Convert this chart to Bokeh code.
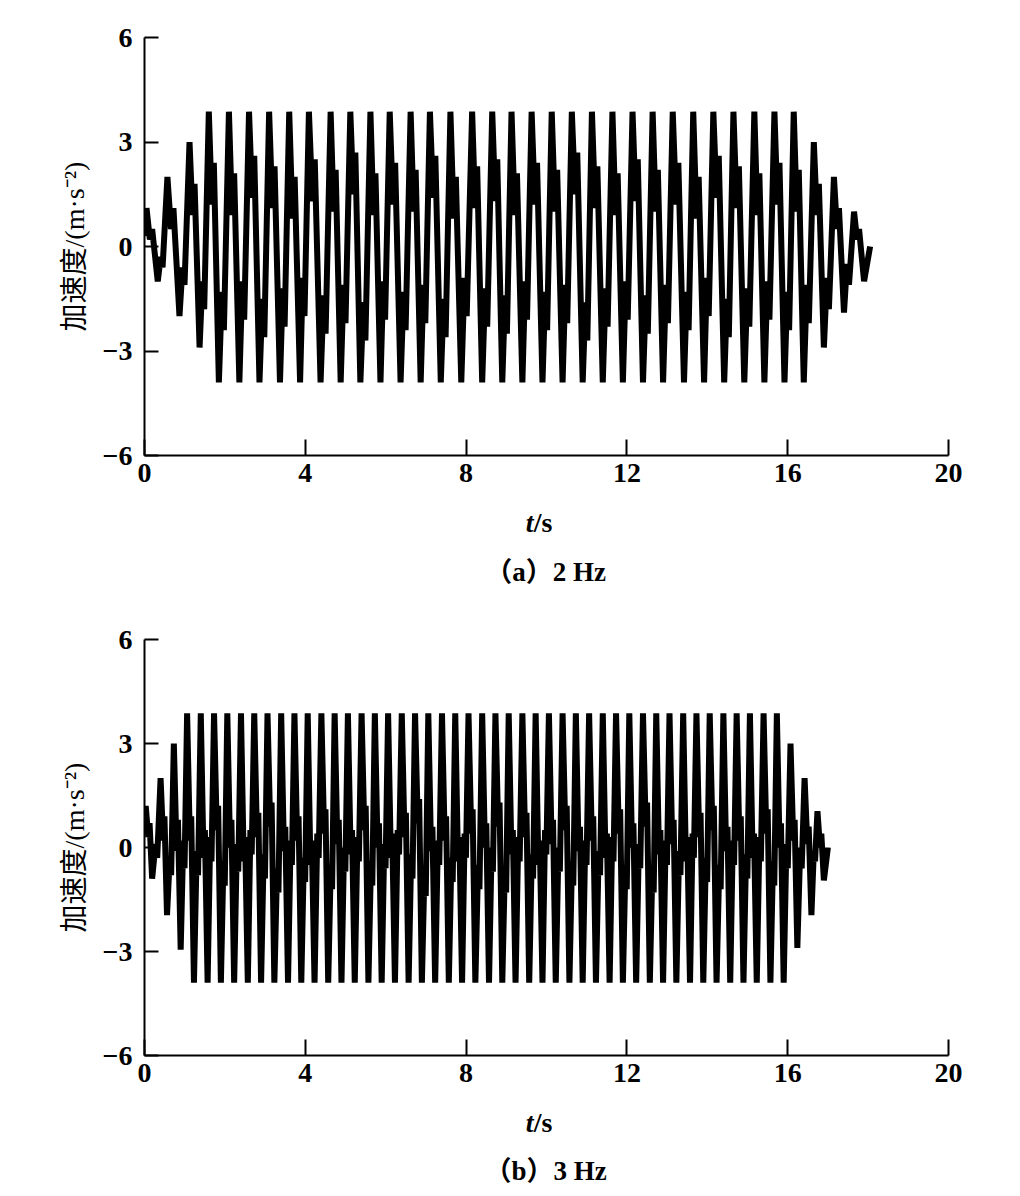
from bokeh.plotting import figure
from bokeh.models import Range1d, FixedTicker
from bokeh.layouts import column
from bokeh.core.properties import value
from bokeh.embed import file_html
from bokeh.resources import INLINE

# ---------------- data: panel (a) 2 Hz ----------------
start_a = (0.0, 0.3)
end_a = (18.05, 0.0)
peak_t_a = [0.05, 0.57, 1.12, 1.60, 2.10, 2.60, 3.10, 3.60, 4.09, 4.63, 5.12, 5.62,
            6.10, 6.62, 7.10, 7.61, 8.15, 8.65, 9.13, 9.63, 10.13, 10.63, 11.13, 11.64,
            12.14, 12.64, 13.14, 13.65, 14.15, 14.65, 15.17, 15.67, 16.15, 16.65, 17.15, 17.65]
peak_v_a = [1.1, 2.0, 3.0] + [3.87] * 30 + [3.0, 2.0, 1.0]
trough_t_a = [0.33, 0.87, 1.37, 1.85, 2.36, 2.86, 3.37, 3.87, 4.38, 4.88, 5.37, 5.87,
              6.37, 6.87, 7.37, 7.88, 8.40, 8.90, 9.40, 9.90, 10.40, 10.90, 11.40, 11.90,
              12.40, 12.90, 13.42, 13.92, 14.42, 14.92, 15.42, 15.92, 16.40, 16.90, 17.40, 17.90]
trough_v_a = [-1.0, -2.0, -2.9] + [-3.9] * 30 + [-2.9, -1.9, -1.0]
dip_a = [0.2, 0.5, 0.9,
         1.2, 0.9, 1.4, 1.1, 0.8, 1.3, 1.0, 1.5, 0.9, 1.2, 1.0, 1.4, 0.8, 1.1, 1.3,
         0.9, 1.2, 1.0, 1.5, 1.1, 0.9, 1.3, 1.0, 1.2, 0.8, 1.4, 1.1, 0.9, 1.2, 1.0,
         0.9, 0.5, 0.2]
bump_a = [0.5, 1.1, 1.8,
          2.4, 2.1, 2.6, 2.3, 2.0, 2.5, 2.2, 2.7, 2.1, 2.4, 2.2, 2.6, 2.0, 2.3, 2.5,
          2.1, 2.4, 2.2, 2.7, 2.3, 2.1, 2.5, 2.2, 2.4, 2.0, 2.6, 2.3, 2.1, 2.4, 2.2,
          1.8, 1.1, 0.5]
rise_a = [-0.3, -0.6, -1.0,
          -1.3, -1.0, -1.5, -1.2, -0.9, -1.4, -1.1, -1.6, -1.0, -1.3, -1.1, -1.5, -0.9, -1.2, -1.4,
          -1.0, -1.3, -1.1, -1.6, -1.2, -1.0, -1.4, -1.1, -1.3, -0.9, -1.5, -1.2, -1.0, -1.3, -1.1,
          -0.9, -0.5]
sag_a = [-0.6, -1.1, -1.8,
         -2.4, -2.1, -2.6, -2.3, -2.0, -2.5, -2.2, -2.7, -2.1, -2.4, -2.2, -2.6, -2.0, -2.3, -2.5,
         -2.1, -2.4, -2.2, -2.7, -2.3, -2.1, -2.5, -2.2, -2.4, -2.0, -2.6, -2.3, -2.1, -2.4, -2.2,
         -1.8, -1.1]

# ---------------- data: panel (b) 3 Hz ----------------
start_b = (0.0, 0.6)
end_b = (17.0, 0.0)
peak_t_b = [0.03, 0.40, 0.73,
            1.06, 1.40, 1.73, 2.06, 2.40, 2.73, 3.06, 3.40, 3.73, 4.06, 4.40, 4.73,
            5.06, 5.40, 5.73, 6.06, 6.40, 6.73, 7.06, 7.40, 7.73, 8.06, 8.40, 8.73,
            9.06, 9.40, 9.73, 10.06, 10.40, 10.73, 11.06, 11.40, 11.73, 12.06, 12.40, 12.73,
            13.06, 13.40, 13.73, 14.06, 14.40, 14.73, 15.06, 15.40, 15.73,
            16.07, 16.42, 16.74]
peak_v_b = [1.2, 2.0, 3.0] + [3.87] * 45 + [3.0, 2.0, 1.05]
trough_t_b = [0.19, 0.56, 0.90,
              1.23, 1.57, 1.90, 2.23, 2.57, 2.90, 3.23, 3.57, 3.90, 4.23, 4.57, 4.90,
              5.23, 5.57, 5.90, 6.23, 6.57, 6.90, 7.23, 7.57, 7.90, 8.23, 8.57, 8.90,
              9.23, 9.57, 9.90, 10.23, 10.57, 10.90, 11.23, 11.57, 11.90, 12.23, 12.57, 12.90,
              13.23, 13.57, 13.90, 14.23, 14.57, 14.90, 15.23, 15.57, 15.90,
              16.24, 16.59, 16.90]
trough_v_b = [-0.9, -1.95, -2.95] + [-3.9] * 45 + [-2.9, -1.95, -0.95]
dip_b = [0.3, 0.2, -0.1,
         0.2, -0.3, 0.5, 0.0, -0.4, 0.3, 0.6, -0.1, 0.2,
         -0.5, 0.4, 0.1, -0.2, 0.5, 0.0, -0.3, 0.3, 0.7,
         -0.1, 0.2, -0.4, 0.4, 0.0, 0.6, -0.2, 0.3, -0.5,
         0.1, 0.5, -0.1, 0.2, -0.3, 0.4, 0.0, 0.6, -0.2,
         0.1, -0.4, 0.3, 0.5, -0.1, 0.2, -0.3, 0.4, 0.0,
         0.2, 0.1, 0.0]
bump_b = [0.7, 0.9, 0.8,
          0.9, 0.5, 1.2, 0.8, 0.3, 1.0, 1.3, 0.6, 0.9,
          0.2, 1.1, 0.8, 0.5, 1.2, 0.7, 0.4, 1.0, 1.4,
          0.6, 0.9, 0.3, 1.1, 0.7, 1.3, 0.5, 1.0, 0.2,
          0.8, 1.2, 0.6, 0.9, 0.4, 1.1, 0.7, 1.3, 0.5,
          0.8, 0.3, 1.0, 1.2, 0.6, 0.9, 0.4, 1.1, 0.7,
          0.8, 0.6, 0.4]
rise_b = [0.1, -0.3, 0.2,
          -0.1, 0.3, -0.4, 0.1, 0.5, -0.2, -0.6, 0.2, -0.3,
          0.4, -0.5, 0.0, 0.3, -0.4, 0.1, 0.5, -0.2, -0.7,
          0.2, -0.3, 0.4, -0.5, 0.0, -0.6, 0.3, -0.2, 0.5,
          0.0, -0.4, 0.2, -0.1, 0.3, -0.5, 0.1, -0.6, 0.2,
          -0.1, 0.4, -0.3, -0.5, 0.2, -0.2, 0.3, -0.4, 0.1,
          0.0, -0.1]
sag_b = [-0.3, -0.8, -0.6,
         -0.8, -0.4, -1.1, -0.7, -0.2, -0.9, -1.3, -0.5, -1.0,
         -0.3, -1.2, -0.7, -0.4, -1.1, -0.6, -0.2, -0.9, -1.4,
         -0.5, -1.0, -0.3, -1.2, -0.7, -1.3, -0.4, -0.9, -0.2,
         -0.7, -1.1, -0.5, -0.8, -0.4, -1.2, -0.6, -1.3, -0.5,
         -0.8, -0.3, -1.0, -1.2, -0.5, -0.9, -0.4, -1.1, -0.6,
         -0.6, -0.4]

x_ticks = [0, 4, 8, 12, 16, 20]
y_ticks = [-6, -3, 0, 3, 6]
y_tick_labels = {-6: "−6", -3: "−3", 0: "0", 3: "3", 6: "6"}
y_title = "加速度/(m·s⁻²)"
x_title_var = "t"
x_title_unit = "/s"
captions = ["（a）2 Hz", "（b）3 Hz"]


def build(start, pt, pv, dip, bump, tt, tv, rise, sag, end, f1, f2):
    ts = [start[0]]
    vs = [start[1]]
    n = len(pt)
    for i in range(n):
        ts.append(pt[i]); vs.append(pv[i])
        d = tt[i] - pt[i]
        ts += [pt[i] + f1 * d, pt[i] + f2 * d, tt[i]]
        vs += [dip[i], bump[i], tv[i]]
        if i < n - 1:
            d2 = pt[i + 1] - tt[i]
            ts += [tt[i] + f1 * d2, tt[i] + f2 * d2]
            vs += [rise[i], sag[i]]
    ts.append(end[0]); vs.append(end[1])
    return ts, vs


SERIF = "Liberation Serif"
MIXED = "Liberation Serif, Noto Sans CJK SC"
W = 1012
BL = 144
BR = 64


def panel(ts, vs, height, btop, bbottom):
    p = figure(width=W, height=height, x_range=Range1d(0, 20), y_range=Range1d(-6, 6),
               output_backend="svg", toolbar_location=None,
               min_border_left=BL, min_border_right=BR,
               min_border_top=btop, min_border_bottom=bbottom)
    p.outline_line_color = None
    p.grid.visible = False
    p.line(ts, vs, line_color="black", line_width=6, line_join="bevel")
    for ax in (p.xaxis[0], p.yaxis[0]):
        ax.axis_line_width = 2
        ax.axis_line_color = "black"
        ax.major_tick_line_width = 2
        ax.major_tick_line_color = "black"
        ax.major_tick_out = 0
        ax.minor_tick_line_color = None
        ax.major_label_text_font = SERIF
        ax.major_label_text_font_size = "28px"
        ax.major_label_text_font_style = "bold"
        ax.major_label_text_color = "black"
    p.xaxis[0].ticker = FixedTicker(ticks=x_ticks)
    p.xaxis[0].major_tick_in = 16
    p.xaxis[0].major_label_standoff = 8
    p.yaxis[0].ticker = FixedTicker(ticks=y_ticks)
    p.yaxis[0].major_label_overrides = y_tick_labels
    p.yaxis[0].major_tick_in = 14
    p.yaxis[0].major_label_standoff = 12
    p.yaxis[0].axis_label = y_title
    p.yaxis[0].axis_label_text_font = MIXED
    p.yaxis[0].axis_label_text_font_size = "28px"
    p.yaxis[0].axis_label_text_font_style = "normal"
    p.yaxis[0].axis_label_text_color = "black"
    p.yaxis[0].axis_label_standoff = 10
    return p


def caption_fig(caption, height, y_title_px, y_caption_px):
    c = figure(width=W, height=height, x_range=Range1d(0, 20), y_range=Range1d(0, height),
               output_backend="svg", toolbar_location=None,
               x_axis_type=None, y_axis_type=None,
               min_border_left=BL, min_border_right=BR,
               min_border_top=0, min_border_bottom=0)
    c.outline_line_color = None
    c.grid.visible = False
    c.text(x=[9.68], y=[height - y_title_px], text=[x_title_var],
           text_font=value(SERIF), text_font_size="28px", text_font_style="bold italic",
           text_align="right", text_baseline="middle", text_color="black")
    c.text(x=[9.68], y=[height - y_title_px], text=[x_title_unit],
           text_font=value(SERIF), text_font_size="28px", text_font_style="bold",
           text_align="left", text_baseline="middle", text_color="black")
    c.text(x=[9.98], y=[height - y_caption_px], text=[caption],
           text_font=value(MIXED), text_font_size="27px", text_font_style="bold",
           text_align="center", text_baseline="middle", text_color="black")
    return c


ta, va = build(start_a, peak_t_a, peak_v_a, dip_a, bump_a, trough_t_a, trough_v_a,
               rise_a, sag_a, end_a, 0.3, 0.5)
tb, vb = build(start_b, peak_t_b, peak_v_b, dip_b, bump_b, trough_t_b, trough_v_b,
               rise_b, sag_b, end_b, 0.4, 0.6)

pa = panel(ta, va, 500, 37, 45)
ca = caption_fig(captions[0], 102, 22, 71)
pb = panel(tb, vb, 498, 37, 45)
cb = caption_fig(captions[1], 94, 22, 70)

layout = column(pa, ca, pb, cb)
open("out.html", "w").write(file_html(layout, INLINE))
